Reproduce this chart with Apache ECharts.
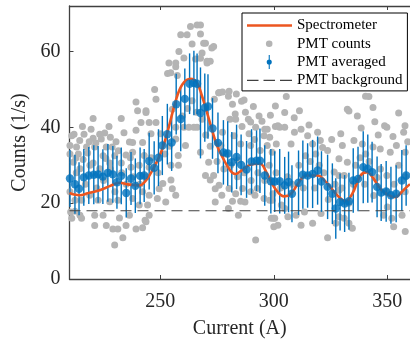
<!DOCTYPE html>
<html><head><meta charset="utf-8">
<script src="https://cdn.jsdelivr.net/npm/echarts@6/dist/echarts.min.js"></script>
<style>html,body{margin:0;padding:0;background:#fff}#c{width:410px;height:344px}</style>
</head><body><div id="c"></div>
<script>
// ---- data ----
const xTicks = [250, 300, 350];
const yTicks = [0, 20, 40, 60];
const backgroundLevel = 18;

const specX = [210, 212, 214.6, 218, 223.3, 227.7, 232, 236.4, 240.8, 243.7, 247.3, 250.9, 253.8, 256.8, 259.7, 263.3, 266.2, 268.4, 270.6, 272.7, 274.9, 277.8, 280.8, 283, 285.8, 289.5, 293.9, 296.7, 300.4, 304.5, 307.6, 310.6, 314.2, 319.3, 322.9, 326.6, 329.5, 331.6, 334.6, 338.2, 341.1, 344, 346.9, 350.6, 353.5, 356.4, 358.6, 360];
const specY = [22.7, 22.3, 22.1, 22.6, 23.4, 24.5, 25.4, 24.9, 24.7, 26.0, 29.5, 34.3, 40.2, 47.0, 51.3, 52.8, 51.7, 48.2, 43.9, 39.5, 35.3, 31.7, 28.6, 27.7, 28.6, 30.1, 30.4, 28.2, 24.0, 21.8, 22.5, 25.1, 27.3, 27.3, 25.6, 23.0, 21.2, 20.5, 22.5, 27.3, 28.2, 26.4, 23.8, 22.1, 21.6, 23.0, 24.3, 25.0];

const avgX = [210.2, 212.4, 214.2, 216.3, 218.5, 220.7, 222.6, 224.7, 226.9, 229.1, 230.9, 232.8, 235.0, 237.1, 239.0, 241.1, 242.9, 245.1, 247.3, 249.2, 250.9, 253.1, 255.0, 257.0, 259.0, 260.8, 262.9, 264.8, 266.2, 267.7, 269.6, 271.0, 273.0, 275.4, 277.8, 279.7, 281.5, 283.6, 285.6, 288.0, 290.2, 292.4, 293.9, 296.0, 298.7, 300.4, 302.6, 304.8, 306.5, 308.0, 310.9, 312.8, 314.9, 317.1, 319.3, 321.0, 323.7, 325.8, 327.3, 329.2, 331.2, 333.1, 335.0, 337.1, 339.4, 341.4, 343.3, 345.5, 347.3, 349.5, 351.6, 353.9, 356.4, 358.3];
const avgY = [26.5, 25.0, 23.8, 26.8, 27.3, 27.5, 27.6, 27.0, 28.0, 27.6, 25.5, 27.2, 22.7, 26.5, 24.6, 27.2, 27.3, 31.1, 29.3, 32.0, 35.2, 38.2, 36.0, 46.1, 42.2, 47.5, 51.5, 51.7, 51.5, 43.8, 45.2, 45.5, 39.7, 35.9, 33.4, 33.1, 30.8, 32.2, 30.1, 28.9, 31.0, 31.2, 31.2, 27.3, 25.8, 25.7, 25.8, 24.7, 25.6, 22.5, 25.4, 27.5, 27.3, 27.7, 28.6, 25.7, 24.3, 22.5, 18.6, 20.3, 19.9, 20.5, 26.0, 26.4, 29.5, 29.1, 28.2, 24.3, 22.8, 23.1, 22.1, 22.5, 26.0, 27.3];
const avgErr = [7.5, 7.8, 7.0, 7.5, 7.5, 7.8, 7.5, 7.2, 7.6, 7.5, 7.0, 7.5, 6.5, 7.0, 7.2, 7.5, 7.0, 7.5, 7.0, 7.5, 7.8, 8.0, 7.5, 8.0, 8.5, 8.0, 8.0, 8.5, 8.0, 12.0, 9.0, 8.5, 8.0, 8.0, 8.5, 8.5, 8.0, 8.5, 8.0, 7.5, 8.5, 8.0, 8.5, 8.0, 8.5, 8.0, 8.5, 7.5, 8.0, 7.5, 8.5, 9.0, 8.5, 9.0, 9.0, 8.0, 8.5, 8.0, 8.0, 7.5, 7.5, 7.5, 8.5, 8.5, 9.5, 9.0, 8.0, 8.0, 7.5, 8.0, 7.5, 7.5, 8.0, 8.0];

const grayCounts = [
 [220.4,42.3],[232.8,42.3],[215.7,40.2],[227.4,40.2],[212.0,38.2],[216.4,38.2],[223.3,38.2],[220.4,37.1],[224.0,36.9],[218.7,36.2],[221.6,35.9],[210.2,35.2],[213.1,34.8],[217.5,34.8],[221.1,34.8],[226.2,34.8],[228.8,34.8],[236.4,36.1],[210.2,33.0],[213.9,33.0],[224.8,32.5],[229.9,32.5],[234.9,32.7],[211.7,30.8],[220.4,30.6],[227.7,30.6],[232.8,30.6],[214.6,29.1],[223.3,29.1],[237.1,29.5],[210.2,23.0],[212.4,20.8],[215.3,20.8],[218.9,22.1],[222.6,20.8],[227.7,20.4],[231.3,20.8],[210.5,17.7],[212.4,17.9],[214.6,16.8],[221.1,16.8],[224.8,16.8],[232.0,16.1],[236.4,16.8],[211.0,16.0],[215.3,16.0],[221.1,14.1],[226.2,14.1],[229.1,13.2],[231.3,13.2],[234.9,14.1],[233.5,10.9],[229.9,9.0],
 [211,37.8],[239.3,46.7],[243.7,43.9],
 [263.3,66.6],[266.2,67.0],[267.7,67.0],[261.8,64.4],[267.7,64.6],[264.0,62.0],[258.2,60.0],[260.4,58.3],[253.2,54.2],[256.8,56.0],[265.5,58.0],[257.5,53.7],[248.1,47.4],[240.0,44.4],[243.7,44.4],[255.3,44.8],[241.5,41.3],[245.1,41.3],[248.1,41.3],[256.8,40.0],[260.4,40.0],[262.6,40.0],[264.8,40.0],[266.2,40.0],[259.7,43.0],[239.3,39.2],[245.9,38.3],[250.2,38.3],[237.8,36.0],[242.2,36.0],[256.8,36.9],[261.1,35.2],[267.7,33.4],[237.8,33.4],[242.9,32.6],[257.9,32.6],[240.7,30.0],[245.1,29.5],[254.7,30.0],[254.7,26.1],[251.1,25.2],[242.2,23.0],[245.1,22.1],[249.5,23.8],[237.8,21.2],[248.7,21.2],[240.7,19.5],[244.4,19.5],[245.1,16.8],[243.3,15.5],[239.3,13.2],[242.2,13.5],
 [259.0,64.4],[253.8,57.0],[247.5,50.0],
 [269.9,62.2],[272.7,60.9],[256.8,57.0],[254.6,54.4],[270.6,57.0],[275.7,49.1],[280.0,48.2],[285.8,46.9],[283.0,43.5],[288.8,42.1],[304.8,43.9],[301.8,40.4],[296.0,39.5],
 [255.3,23.8],[256.8,22.1],[252.4,20.3],[274.2,23.8],[277.1,22.1],[274.2,20.3],[280.0,18.6],[287.3,20.3],[284.4,16.8],[291.7,22.1],[298.9,16.0],[301.8,14.2],[304.8,18.6],[243.7,15.1],
 [269.1,62.2],[273.5,61.3],[268.4,59.6],[270.6,57.4],[272.0,57.4],[267.7,58.2],[275.9,49.1],[277.4,49.3],[280.3,49.5],[286.9,47.2],[273.8,47.4],[281.8,46.1],[280.7,42.1],[283.2,42.1],[289.8,41.4],[293.5,43.0],[292.0,40.0],[297.1,39.5],[300.7,45.6],[268.4,42.1],[277.4,38.7],[282.5,37.8],[289.1,38.3],[295.7,37.8],[276.7,35.2],[285.4,35.6],[289.8,35.2],[297.1,35.2],[299.3,33.4],[271.3,30.8],[269.9,27.3],[273.5,27.3],[272.0,26.1],[275.9,24.7],[280.3,23.9],[283.2,22.5],[286.2,23.9],[289.8,23.0],[292.7,23.9],[285.4,20.5],[281.8,20.5],[295.7,21.2],[299.3,20.8],[300.0,16.0],[300.0,13.8],[292.0,10.3],
 [305.5,48.1],[311.3,44.4],[300.7,40.2],[302.6,40.0],[304.8,40.0],[312.0,39.5],[309.1,38.7],[314.9,37.8],[319.3,38.7],[298.2,37.4],[301.1,35.6],[307.6,35.6],[317.1,35.6],[321.5,34.7],[323.7,33.9],[328.7,31.7],[326.6,28.2],[328.7,27.3],[299.6,22.5],[298.2,20.8],[303.3,19.5],[306.2,16.4],[309.8,16.8],[300.4,16.0],[313.5,17.7],[317.1,14.7],[320.8,17.3],[327.3,14.7],[328.7,16.4],[323.7,10.9],[312.0,14.2],
 [341.9,48.1],[332.4,44.8],[336.8,43.0],[343.7,45.2],[349.8,40.0],[329.5,38.3],[330.2,35.2],[335.3,36.5],[339.0,35.6],[343.7,34.8],[346.9,34.3],[351.3,33.4],[357.2,38.7],[357.9,33.4],[332.4,30.8],[336.0,30.0],[331.0,27.3],[345.5,26.8],[349.8,27.3],[328.7,23.4],[349.8,23.0],[357.9,23.0],[331.0,16.0],[333.1,14.7],[334.6,13.4],[348.4,16.8],[352.0,16.0],[356.5,16.8],[352.8,13.8],[357.9,12.5],
 [340.4,48.2],[333.1,44.3],[348.8,40.4],[357.8,40.4],
 [213,28],[217,25],[219,30],[222,24],[225,26],[228,29],[230,23],[233,28],[235,25],[238,27],[241,25],[244,27],[246,32],[249,28],[252,33],[254,35],[258,30],[262,45],[264,47],[266,44],[270,38],[272,35],[275,31],[278,29],[281,30],[284,27],[287,28],[290,26],[293,28],[296,26],[298,30],[301,28],[303,24],[306,27],[308,25],[311,30],[313,24],[316,31],[318,24],[320,30],[322,28],[324,21],[327,25],[330,24],[333,20],[335,25],[338,32],[340,25],[342,31],[344,22],[347,29],[350,19],[353,25],[355,30],[358,27],
 [214.5,36.5],[218,33.2],[225.5,38.5],[230.5,36.2],[234,38.6],[236.8,32.0],[212.8,31.9],[219.5,39.5],[228,37.4],[231.5,33.8],[216,31.5],[226,31.8],
 [283.5,48.8],[287.5,44.0],[291,45.5],[294.8,41.6],[298.5,43.2],[286,40.2],[291.5,36.8],[294,33.9],[284,31.4],[279,33.0],
 [309,42.5],[315.5,40.6],[320.5,36.5],[325.5,36.8],[318.5,33.0],[314,32.5],
 [338.5,39.8],[344.5,41.5],[352.5,37.6],[355,43.8],[346,38.0],[340.5,33.0],[354,35.2],[359,36.2]
];

// ---- build chart ----
const FONT = 'Liberation Serif';
const AXIS_COLOR = '#404040';
const specData = specX.map((x, i) => [x, specY[i]]);
const avgData = avgX.map((x, i) => [x, avgY[i], avgErr[i]]);
const bgData = [[210, backgroundLevel], [360, backgroundLevel]];

const B = 'M0 0 M45 14 ';
const icons = {
  spec: 'path://' + B + 'M0 5.75 H45 V8.25 H0 Z',
  counts: 'path://' + B + 'M25.5 7 A3.3 3.3 0 1 1 18.9 7 A3.3 3.3 0 1 1 25.5 7 Z',
  avg: 'path://' + B + 'M21.7 0 H22.8 V5 H21.7 Z M21.7 9 H22.8 V14 H21.7 Z M24.8 7 A2.55 2.55 0 1 1 19.7 7 A2.55 2.55 0 1 1 24.8 7 Z',
  bg: 'path://' + B + 'M0 6.4 H11.5 V7.6 H0 Z M16.5 6.4 H28 V7.6 H16.5 Z M33 6.4 H45 V7.6 H33 Z'
};

const chart = echarts.init(document.getElementById('c'), null, { renderer: 'canvas' });
chart.setOption({
  animation: false,
  backgroundColor: '#fff',
  grid: { left: 69.5, right: -3.5, top: 6, bottom: 63 },
  legend: {
    orient: 'vertical', left: 242, top: 13,
    padding: [5, 5, 3, 5], itemGap: 3.3, itemWidth: 45, itemHeight: 14,
    backgroundColor: '#fff', borderColor: '#000', borderWidth: 1, borderRadius: 0,
    textStyle: { fontFamily: FONT, fontSize: 15, color: '#000' },
    itemStyle: { borderWidth: 0 },
    data: [
      { name: 'Spectrometer', icon: icons.spec },
      { name: 'PMT counts', icon: icons.counts },
      { name: 'PMT averaged', icon: icons.avg },
      { name: 'PMT background', icon: icons.bg }
    ],
    selectedMode: false, z: 20
  },
  xAxis: [{
    type: 'value', min: 210, max: 360, position: 'bottom',
    name: 'Current (A)', nameLocation: 'middle', nameGap: 40,
    nameTextStyle: { fontFamily: FONT, fontSize: 20, color: '#262626' },
    axisLine: { show: true, onZero: false, lineStyle: { color: AXIS_COLOR, width: 1.3 } },
    axisTick: { show: true, inside: true, length: 4, customValues: xTicks, lineStyle: { color: AXIS_COLOR } },
    axisLabel: { customValues: xTicks, margin: 13, fontFamily: FONT, fontSize: 20, color: '#262626' },
    splitLine: { show: false }
  }, {
    type: 'value', min: 210, max: 360, position: 'top',
    axisLine: { show: true, onZero: false, lineStyle: { color: AXIS_COLOR, width: 1.3 } },
    axisTick: { show: true, inside: true, length: 4, customValues: xTicks, lineStyle: { color: AXIS_COLOR } },
    axisLabel: { show: false }, splitLine: { show: false }
  }],
  yAxis: [{
    type: 'value', min: 0, max: 72,
    name: 'Counts (1/s)', nameLocation: 'middle', nameGap: 35,
    nameTextStyle: { fontFamily: FONT, fontSize: 20, color: '#262626' },
    axisLine: { show: true, onZero: false, lineStyle: { color: AXIS_COLOR, width: 1.3 } },
    axisTick: { show: true, inside: true, length: 4, customValues: yTicks, lineStyle: { color: AXIS_COLOR } },
    axisLabel: { customValues: yTicks, margin: 9, fontFamily: FONT, fontSize: 20, color: '#262626' },
    splitLine: { show: false }
  }],
  series: [
    {
      name: 'PMT counts', type: 'scatter', data: grayCounts, symbol: 'circle', symbolSize: 7,
      itemStyle: { color: '#b4b4b4', opacity: 1 }, z: 1, silent: true
    },
    {
      name: 'PMT averaged', type: 'custom', data: avgData, z: 3, clip: true,
      encode: { x: 0, y: 1 },
      itemStyle: { color: '#0072BD' },
      renderItem: function (params, api) {
        const x = api.value(0), y = api.value(1), e = api.value(2);
        const p1 = api.coord([x, y - e]), p2 = api.coord([x, y + e]);
        return { type: 'line', shape: { x1: p1[0], y1: p1[1], x2: p2[0], y2: p2[1] },
          style: { stroke: '#0072BD', lineWidth: 1.4 } };
      }
    },
    {
      name: 'Spectrometer', type: 'line', data: specData, smooth: 0.4, symbol: 'none',
      lineStyle: { color: '#EC5620', width: 2.6 }, itemStyle: { color: '#EC5620' }, z: 4
    },
    {
      name: 'PMT averaged', type: 'scatter', data: avgData, symbol: 'circle', symbolSize: 8.4,
      itemStyle: { color: '#0072BD' }, z: 5
    },
    {
      name: 'PMT background', type: 'line', data: bgData, symbol: 'none',
      lineStyle: { color: '#404040', width: 1.2, type: [11, 6] }, itemStyle: { color: '#404040' }, z: 6
    }
  ]
});
</script>
</body></html>
